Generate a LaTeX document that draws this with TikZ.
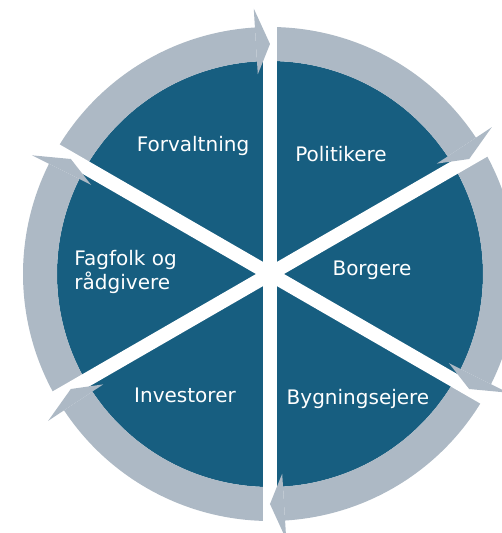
\documentclass[tikz,border=0pt]{standalone}
\usepackage{fontspec}
\setmainfont{DejaVu Sans}

\definecolor{diskblue}{RGB}{23,94,128}
\definecolor{ringgray}{RGB}{173,185,197}

\tikzset{every picture/.style={line width=0.75pt}}
\tikzset{lbl/.style={text=white, inner sep=0pt, font=\fontsize{15}{17.5}\selectfont}}
\tikzset{gap/.style={draw=white, line width=10.5pt}}

\begin{document}
\begin{tikzpicture}[x=0.75pt,y=0.75pt,yscale=-1,xscale=1]
%set diagram origin at the centre of the wheel
\useasboundingbox (-270,-274) rectangle (232,259);
\clip (-270,-274) rectangle (232,259);

%Shape: Circle [id:disk]
\fill [diskblue] (0,0) circle (213) ;

%Shape: Arc [id:ring1]
\fill [ringgray] (-150:213) arc (-150:-93.5:213) -- (-93.5:247) arc (-93.5:-150:247) -- cycle ;
%Shape: Arc [id:ring2]
\fill [ringgray] (-90:213) arc (-90:-33.5:213) -- (-33.5:247) arc (-33.5:-90:247) -- cycle ;
%Shape: Arc [id:ring3]
\fill [ringgray] (-30:213) arc (-30:26.5:213) -- (26.5:247) arc (26.5:-30:247) -- cycle ;
%Shape: Arc [id:ring4]
\fill [ringgray] (30:213) arc (30:86.5:213) -- (86.5:247) arc (86.5:30:247) -- cycle ;
%Shape: Arc [id:ring5]
\fill [ringgray] (90:213) arc (90:146.5:213) -- (146.5:247) arc (146.5:90:247) -- cycle ;
%Shape: Arc [id:ring6]
\fill [ringgray] (150:213) arc (150:206.5:213) -- (206.5:247) arc (206.5:150:247) -- cycle ;

%Straight Lines [id:gap1]
\draw [gap] (-90:262) -- (90:262) ;
%Straight Lines [id:gap2]
\draw [gap] (-30:262) -- (150:262) ;
%Straight Lines [id:gap3]
\draw [gap] (30:262) -- (210:262) ;

%Shape: Triangle [id:head1]
\fill [ringgray] (-93.5:200) -- (-90:230) -- (-93.5:266) -- cycle ;
%Shape: Triangle [id:head2]
\fill [ringgray] (-33.5:200) -- (-30:230) -- (-33.5:266) -- cycle ;
%Shape: Triangle [id:head3]
\fill [ringgray] (26.5:200) -- (30:230) -- (26.5:266) -- cycle ;
%Shape: Triangle [id:head4]
\fill [ringgray] (86.5:200) -- (90:230) -- (86.5:266) -- cycle ;
%Shape: Triangle [id:head5]
\fill [ringgray] (146.5:200) -- (150:230) -- (146.5:266) -- cycle ;
%Shape: Triangle [id:head6]
\fill [ringgray] (206.5:200) -- (210:230) -- (206.5:266) -- cycle ;

% Text Node
\node [lbl] (forvaltning) at (-77,-128) {Forvaltning};
% Text Node
\node [lbl] (politikere) at (71,-120) {Politikere};
% Text Node
\node [lbl] (borgere) at (102,-4) {Borgere};
% Text Node
\node [lbl, anchor=west, align=left] (fagfolk) at (-196,-2) {Fagfolk og\\rådgivere};
% Text Node
\node [lbl] (investorer) at (-85,121) {Investorer};
% Text Node
\node [lbl] (bygningsejere) at (88,125) {Bygningsejere};

\end{tikzpicture}
\end{document}
